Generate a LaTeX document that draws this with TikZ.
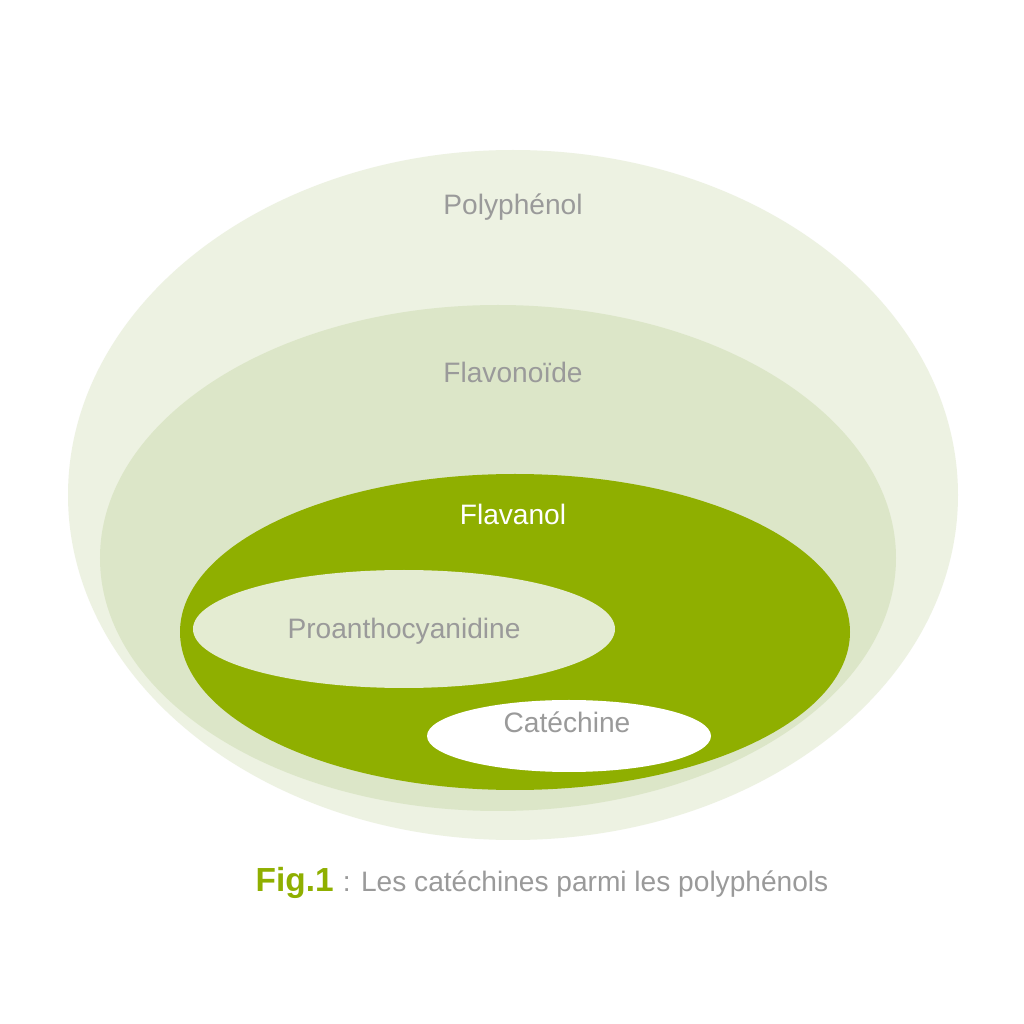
\documentclass[tikz,border=0pt]{standalone}
\usepackage{fontspec}
\setmainfont{Liberation Sans}
\usetikzlibrary{shapes.geometric}
\definecolor{polyfill}{HTML}{EDF2E2}
\definecolor{flavofill}{HTML}{DCE6C8}
\definecolor{flavanfill}{HTML}{8FAF00}
\definecolor{proanfill}{HTML}{E4ECD2}
\definecolor{labelgray}{HTML}{9A9A9A}
\tikzset{
  set/.style={ellipse, inner sep=0pt, draw=none},
  setlabel/.style={font=\fontsize{8}{9}\selectfont, text=labelgray},
}
\begin{document}
\begin{tikzpicture}
\useasboundingbox (0,0) rectangle (10.24,10.24);
\fill[white] (0,0) rectangle (10.24,10.24);
% nested sets
\node[set, fill=polyfill, minimum width=8.9cm, minimum height=6.9cm] (polyphenol) at (5.13,5.29) {};
\node[set, fill=flavofill, minimum width=7.96cm, minimum height=5.06cm] (flavonoide) at (4.98,4.66) {};
\node[set, fill=flavanfill, minimum width=6.7cm, minimum height=3.16cm] (flavanol) at (5.15,3.92) {};
\node[set, fill=proanfill, minimum width=4.22cm, minimum height=1.18cm] (proantho) at (4.04,3.95) {};
\node[set, fill=white, minimum width=2.84cm, minimum height=0.72cm] (catechine) at (5.69,2.88) {};
% labels
\node[setlabel] (lpoly) at (5.13,8.17) {Polyphénol};
\node[setlabel] (lflavo) at (5.13,6.52) {Flavonoïde};
\node[setlabel, text=white] (lflavan) at (5.13,5.10) {Flavanol};
\node[setlabel] (lproan) at (4.04,3.93) {Proanthocyanidine};
\node[setlabel] (lcat) at (5.67,3.02) {Catéchine};
% caption
\node[anchor=base west, inner sep=0pt, font=\bfseries\fontsize{9.5}{10}\selectfont, text=flavanfill] (fig) at (2.55,1.33) {Fig.1};
\node[anchor=base west, inner sep=0pt, font=\fontsize{8}{9}\selectfont, text=labelgray] (caption) at (fig.base east) {\ : Les catéchines parmi les polyphénols};
\end{tikzpicture}
\end{document}
